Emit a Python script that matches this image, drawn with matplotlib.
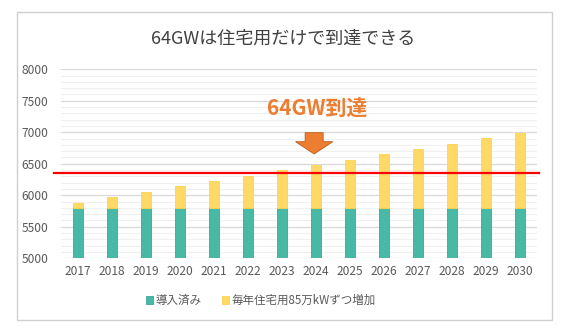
import numpy as np
import matplotlib
matplotlib.use("Agg")
import matplotlib.pyplot as plt
from matplotlib.patches import Rectangle, FancyArrow
from matplotlib.ticker import MultipleLocator

plt.rcParams['font.family'] = ['Noto Sans CJK JP', 'DejaVu Sans']

# ---- data ----
years = ["2017", "2018", "2019", "2020", "2021", "2022", "2023",
         "2024", "2025", "2026", "2027", "2028", "2029", "2030"]
installed = [5800] * 14
added = [85, 170, 255, 340, 425, 510, 595, 680, 765, 850, 935, 1020, 1105, 1190]
target = 6360
reach_year = "2024"

title = "64GWは住宅用だけで到達できる"
label_installed = "導入済み"
label_added = "毎年住宅用85万kWずつ増加"
reach_text = "64GW到達"

GREEN = "#47B9A5"
YELLOW = "#FFD966"
ORANGE = "#ED7D31"
TEXT = "#595959"

W, H = 575, 336
fig = plt.figure(figsize=(W / 100, H / 100), dpi=100)

# chart frame
fig.patches.append(Rectangle((16.7 / W, 1 - 320 / H), (551.7 - 16.7) / W, (320 - 12) / H,
                             transform=fig.transFigure, fill=False,
                             edgecolor="#D0D0D0", lw=1.0))

ax = fig.add_axes([61 / W, 1 - 258.3 / H, (536.7 - 61) / W, (258.3 - 69.3) / H])
x = np.arange(len(years))

ax.bar(x, installed, width=0.3, color=GREEN, edgecolor="#3AA894", lw=0.6,
       label=label_installed, zorder=3)
ax.bar(x, added, bottom=installed, width=0.3, color=YELLOW, edgecolor="#FFD24D",
       lw=0.6, label=label_added, zorder=3)

ax.set_ylim(5000, 8000)
ax.set_xlim(-0.5, len(years) - 0.5)
ax.yaxis.set_major_locator(MultipleLocator(500))
ax.yaxis.set_minor_locator(MultipleLocator(100))
ax.set_xticks(x)
ax.set_xticklabels(years)
ax.grid(axis="y", which="major", color="#D9D9D9", lw=0.9, zorder=0)
ax.grid(axis="y", which="minor", color="#F0F0F0", lw=0.8, zorder=0)
ax.tick_params(which="both", length=0, labelsize=8.6, colors=TEXT, pad=5)
ax.tick_params(axis="y", pad=9)
for s in ax.spines.values():
    s.set_visible(False)
ax.set_facecolor("none")

# target line, running slightly past the plot area
ax.plot([-0.71, len(years) - 0.44], [target, target], color="#FF0000", lw=1.6,
        clip_on=False, zorder=5)

# arrow and label above the year the target is reached
xi = years.index(reach_year)
ax.add_patch(FancyArrow(xi - 0.05, 6994, 0, 6656 - 6994, width=0.53,
                        head_width=1.1, head_length=195,
                        length_includes_head=True, facecolor=ORANGE,
                        edgecolor="#B85F22", lw=0.6, zorder=6))
ax.text(xi + 0.03, 7370, reach_text, color=ORANGE, fontsize=15,
        fontweight="bold", ha="center", va="center", zorder=6)

fig.text(283 / W, 1 - 38.3 / H, title, color="#404040", fontsize=13,
         ha="center", va="center")

fig.legend(loc="center", bbox_to_anchor=(261 / W, 1 - 300.5 / H), ncol=2,
           frameon=False, fontsize=8.3, handlelength=0.6, handleheight=0.6,
           handletextpad=0.2, columnspacing=1.8, labelcolor=TEXT)

fig.savefig("out.png", dpi=100, facecolor="white")
